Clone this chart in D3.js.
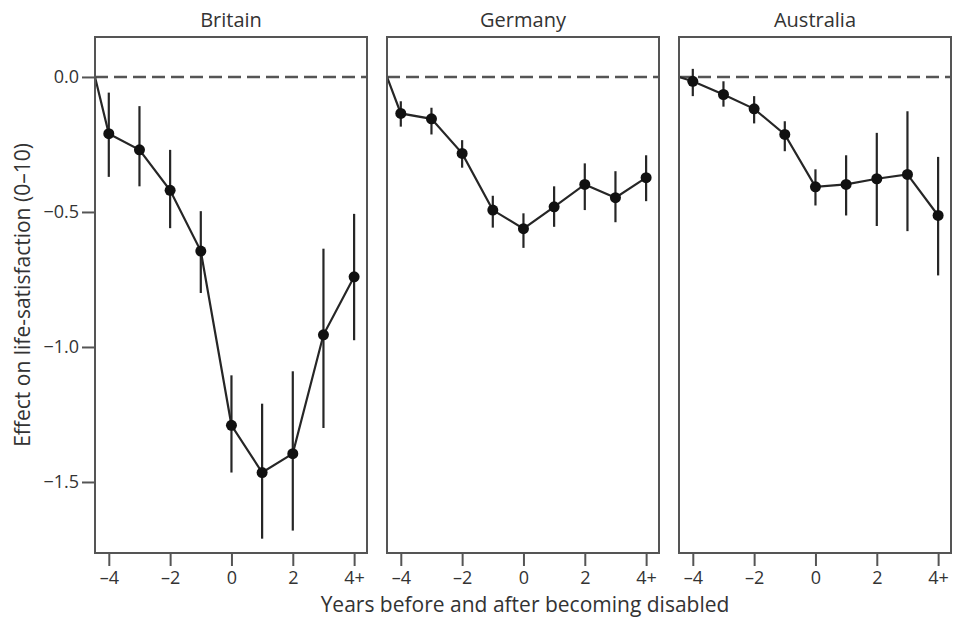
<!DOCTYPE html>
<html>
<head>
<meta charset="utf-8">
<script src="https://cdn.jsdelivr.net/npm/d3@7"></script>
<style>
  body { margin: 0; background: #fff; }
  text { font-family: "Open Sans", "Noto Sans", sans-serif; fill: #333; }
</style>
</head>
<body>
<div id="chart"></div>
<script>
// data
var countries = ["Britain", "Germany", "Australia"];
var years = [-4, -3, -2, -1, 0, 1, 2, 3, 4];
var tickLabels = ["\u20134", "\u20132", "0", "2", "4+"];
var tickYears = [-4, -2, 0, 2, 4];
var yTicks = [0, -0.5, -1.0, -1.5];

var britain   = [-0.21, -0.27, -0.42, -0.645, -1.29, -1.465, -1.395, -0.955, -0.74];
var britainLo = [-0.37, -0.405, -0.56, -0.80, -1.465, -1.71, -1.68, -1.30, -0.975];
var britainHi = [-0.058, -0.108, -0.27, -0.497, -1.105, -1.21, -1.09, -0.636, -0.507];

var germany   = [-0.135, -0.155, -0.283, -0.493, -0.562, -0.481, -0.398, -0.447, -0.373];
var germanyLo = [-0.184, -0.213, -0.336, -0.558, -0.633, -0.555, -0.493, -0.538, -0.46];
var germanyHi = [-0.09, -0.114, -0.234, -0.44, -0.505, -0.405, -0.32, -0.349, -0.29];

var australia   = [-0.016, -0.065, -0.118, -0.213, -0.407, -0.398, -0.377, -0.361, -0.513];
var australiaLo = [-0.071, -0.11, -0.172, -0.275, -0.476, -0.513, -0.552, -0.571, -0.735];
var australiaHi = [0.03, -0.016, -0.071, -0.164, -0.342, -0.29, -0.207, -0.127, -0.296];

var series = [
  {name: countries[0], v: britain, lo: britainLo, hi: britainHi},
  {name: countries[1], v: germany, lo: germanyLo, hi: germanyHi},
  {name: countries[2], v: australia, lo: australiaLo, hi: australiaHi}
];

var W = 953, H = 623;
var plotTop = 37, plotBottom = 553;
var panelLeft = [95, 387, 679], panelW = 272;
var ink = "#262626", frame = "#555";

var svg = d3.select("#chart").append("svg")
    .attr("width", W).attr("height", H);

var y = d3.scaleLinear().domain([-1.763, 0.148]).range([plotBottom, plotTop]);
var xDomain = [-4.45, 4.42];

series.forEach(function(s, p) {
  var x = d3.scaleLinear().domain(xDomain).range([0, panelW]);
  var g = svg.append("g").attr("transform", "translate(" + panelLeft[p] + ",0)");

  // title
  g.append("text")
    .attr("x", panelW / 2).attr("y", 27)
    .attr("text-anchor", "middle")
    .style("font-size", "20px")
    .text(s.name);

  // zero reference
  g.append("line")
    .attr("x1", 0).attr("x2", panelW)
    .attr("y1", y(0)).attr("y2", y(0))
    .attr("stroke", frame).attr("stroke-width", 2.5)
    .attr("stroke-dasharray", "13,6");

  // error bars
  g.selectAll(".ci").data(years).enter().append("line")
    .attr("x1", (d) => x(d)).attr("x2", (d) => x(d))
    .attr("y1", (d, i) => y(s.lo[i])).attr("y2", (d, i) => y(s.hi[i]))
    .attr("stroke", ink).attr("stroke-width", 2.2);

  // line, starting from zero at the left edge
  var pts = [[xDomain[0], 0]].concat(years.map((d, i) => [d, s.v[i]]));
  g.append("path")
    .datum(pts)
    .attr("fill", "none").attr("stroke", ink).attr("stroke-width", 2.2)
    .attr("d", d3.line().x(d => x(d[0])).y(d => y(d[1])));

  g.selectAll(".pt").data(years).enter().append("circle")
    .attr("cx", (d) => x(d)).attr("cy", (d, i) => y(s.v[i]))
    .attr("r", 5.5).attr("fill", "#111");

  // frame
  g.append("rect")
    .attr("x", 0).attr("y", plotTop).attr("width", panelW).attr("height", plotBottom - plotTop)
    .attr("fill", "none").attr("stroke", frame).attr("stroke-width", 2);

  // x axis
  var ax = g.append("g").attr("transform", "translate(0," + (plotBottom + 1) + ")")
    .call(d3.axisBottom(x).tickValues(tickYears).tickSize(12).tickPadding(5)
      .tickFormat((d, i) => tickLabels[i]));
  ax.select(".domain").remove();
  ax.selectAll("line").attr("stroke", frame).attr("stroke-width", 2);
  ax.selectAll("text").style("font-size", "18px").attr("fill", "#333");

  if (p == 0) {
    var ay = g.append("g").attr("transform", "translate(-1,0)")
      .call(d3.axisLeft(y).tickValues(yTicks).tickSize(12).tickPadding(3)
        .tickFormat(d => d3.format(".1f")(d).replace("-", "\u2212")));
    ay.select(".domain").remove();
    ay.selectAll("line").attr("stroke", frame).attr("stroke-width", 2);
    ay.selectAll("text").style("font-size", "18px").attr("fill", "#333");
  }
});

svg.append("text")
  .attr("transform", "translate(30," + ((plotTop + plotBottom) / 2) + ") rotate(-90)")
  .attr("text-anchor", "middle")
  .style("font-size", "21px")
  .text("Effect on life-satisfaction (0\u201310)");

svg.append("text")
  .attr("x", 525).attr("y", 612)
  .attr("text-anchor", "middle")
  .style("font-size", "21px")
  .text("Years before and after becoming disabled");
</script>
</body>
</html>
